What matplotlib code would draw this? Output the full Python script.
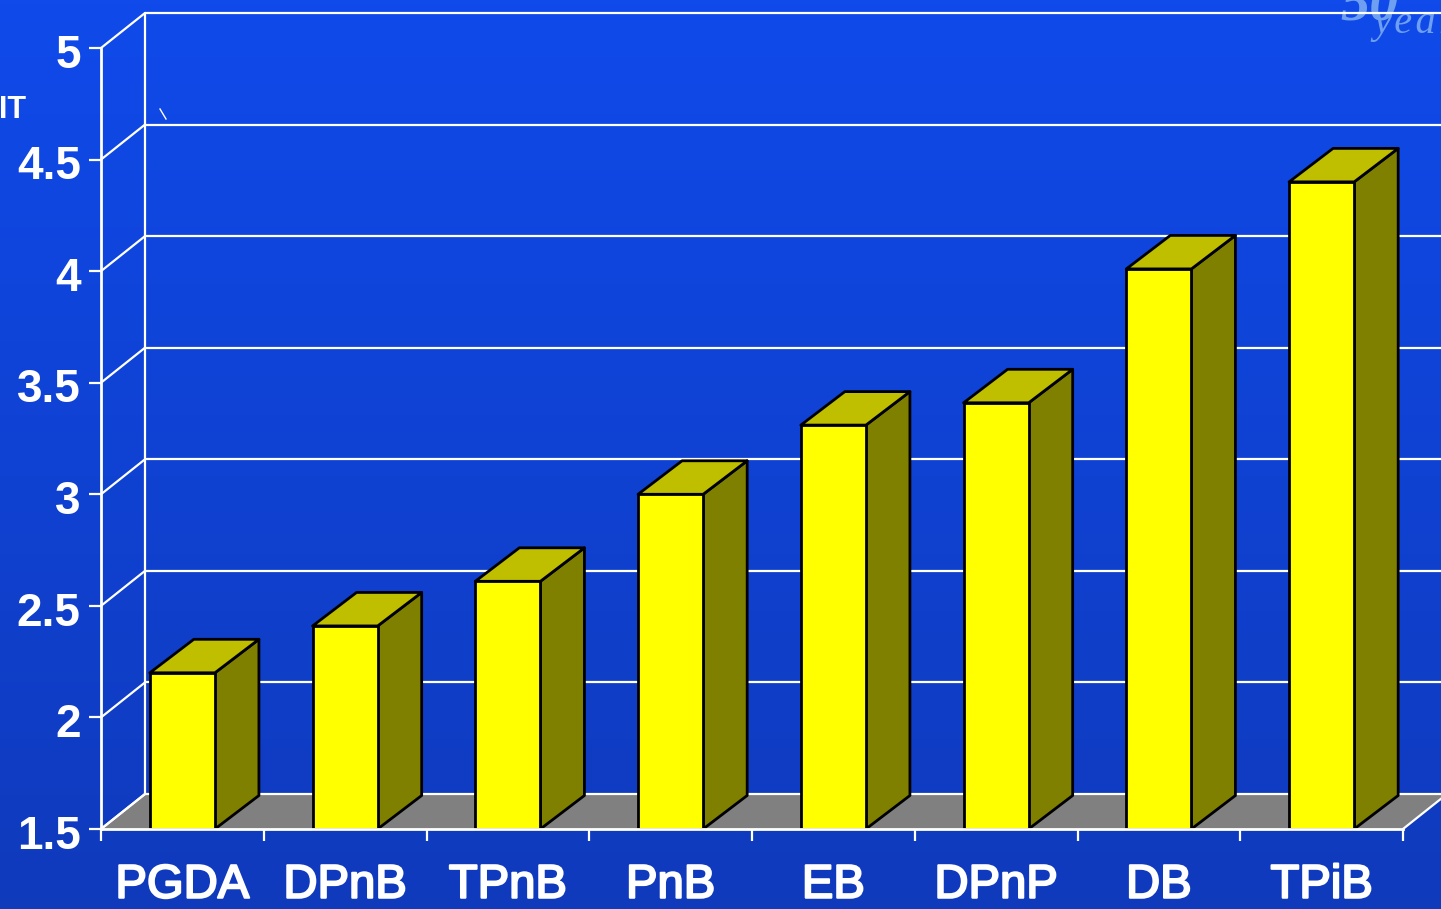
import numpy as np
import matplotlib
matplotlib.use('Agg')
import matplotlib.pyplot as plt
import matplotlib.patheffects as pe
from matplotlib.colors import LinearSegmentedColormap
from matplotlib.lines import Line2D
from matplotlib.patches import Polygon
from matplotlib.transforms import ScaledTranslation

solvents = ['PGDA', 'DPnB', 'TPnB', 'PnB', 'EB', 'DPnP', 'DB', 'TPiB']
values = [2.2, 2.41, 2.61, 3.0, 3.31, 3.41, 4.01, 4.4]
y_ticks = [1.5, 2, 2.5, 3, 3.5, 4, 4.5, 5]
y_labels = ['1.5', '2', '2.5', '3', '3.5', '4', '4.5', '5']

W, H = 1441, 909
# plot box in pixels
LEFT, RIGHT, BOTTOM, TOP = 101, 1403, 829, 48

plt.rcParams['font.family'] = ['Liberation Sans', 'DejaVu Sans']

fig = plt.figure(figsize=(W / 100, H / 100), dpi=100)

# background gradient
bg = fig.add_axes([0, 0, 1, 1], zorder=0)
cmap = LinearSegmentedColormap.from_list('bg', ['#104AEA', '#0F3ABC'])
bg.imshow(np.linspace(0, 1, 256).reshape(-1, 1), cmap=cmap, aspect='auto', extent=[0, 1, 0, 1])
bg.axis('off')

ax = fig.add_axes([LEFT / W, 1 - BOTTOM / H, (RIGHT - LEFT) / W, (BOTTOM - TOP) / H], zorder=2)
ax.patch.set_alpha(0)
ax.set_xlim(0, len(solvents))
ax.set_ylim(1.5, 5)

# depth of the fake 3d box, data units
px_x = (RIGHT - LEFT) / len(solvents)
px_y = (BOTTOM - TOP) / 3.5
dx = 44 / px_x
dy = 35 / px_y
bar_dy = 33.5 / px_y
x_end = 8.4

white = dict(color='white', lw=1.6, clip_on=False, solid_capstyle='round')

# floor
ax.add_patch(Polygon([(0, 1.5), (dx, 1.5 + dy), (8 + dx, 1.5 + dy), (8, 1.5)],
                     closed=True, fc='#808080', ec='none', zorder=1, clip_on=False))
ax.plot([0, dx], [1.5, 1.5 + dy], zorder=1.5, **white)
ax.plot([8, 8 + dx], [1.5, 1.5 + dy], zorder=1.5, **white)

# back wall and side wall lines
ax.plot([dx, dx], [1.5 + dy, 5 + dy], zorder=1.5, **white)
for t in y_ticks:
    ax.plot([dx, x_end], [t + dy, t + dy], zorder=1.5, **white)
    ax.plot([0, dx], [t, t + dy], zorder=1.5, **white)

# bars
bar_w = 0.4
xs = np.arange(len(solvents)) + 0.5
ax.bar(xs, np.array(values) - 1.5, bottom=1.5, width=bar_w, color='#FFFF00',
       edgecolor='black', linewidth=2, zorder=3, clip_on=False)
for x, v in zip(xs, values):
    l, r = x - bar_w / 2, x + bar_w / 2
    side = [(r, 1.5), (r + dx, 1.5 + bar_dy), (r + dx, v + bar_dy), (r, v)]
    top = [(l, v), (l + dx, v + bar_dy), (r + dx, v + bar_dy), (r, v)]
    ax.add_patch(Polygon(side, closed=True, fc='#808000', ec='black', lw=2,
                         joinstyle='round', zorder=2.5, clip_on=False))
    ax.add_patch(Polygon(top, closed=True, fc='#BFBF00', ec='black', lw=2,
                         joinstyle='round', zorder=2.5, clip_on=False))

# axes
for s in ['top', 'right']:
    ax.spines[s].set_visible(False)
for s in ['left', 'bottom']:
    ax.spines[s].set_color('white')
    ax.spines[s].set_linewidth(2)
    ax.spines[s].set_zorder(4)

ax.set_yticks(y_ticks)
ax.set_yticklabels(y_labels, fontsize=33, fontweight='bold', color='white')
ax.tick_params(axis='y', colors='white', length=8.6, width=1.6, pad=6)
# digits sit a little under their ticks
nudge = ScaledTranslation(0, -2 / 72, fig.dpi_scale_trans)
for lab in ax.get_yticklabels():
    lab.set_transform(lab.get_transform() + nudge)

ax.set_xticks(np.arange(len(solvents) + 1))
ax.set_xticklabels([])
ax.set_xticks(xs, minor=True)
ax.set_xticklabels(solvents, minor=True, fontsize=34, color='white')
ax.tick_params(axis='x', which='major', colors='white', length=8.6, width=1.6)
ax.tick_params(axis='x', which='minor', colors='white', length=0, pad=25)
for lab in ax.get_xticklabels(minor=True):
    lab.set_path_effects([pe.withStroke(linewidth=1.5, foreground='white')])

# clipped axis title at the left edge
fig.text(26 / W, 1 - 110 / H, 'IT', color='white', fontsize=22, fontweight='bold',
         ha='right', va='center')

# stray mark on the wall
fig.add_artist(Line2D([160 / W, 166 / W], [1 - 109 / H, 1 - 119 / H], color='white', lw=1))

# logo in the corner, sits under the grid lines
logo = dict(color='#6E9FF0', family=['Liberation Serif', 'DejaVu Serif'], style='italic', zorder=1)
bg.text(1340 / W, 1 - 19 / H, '50', fontsize=42, fontweight='bold', ha='left', va='baseline',
        transform=bg.transAxes, **logo)
bg.text(1373 / W, 1 - 33 / H, 'y\u200ae\u200aa\u200ar\u200as', fontsize=29, ha='left', va='baseline',
        transform=bg.transAxes, **logo)

fig.savefig('out.png', dpi=100)
